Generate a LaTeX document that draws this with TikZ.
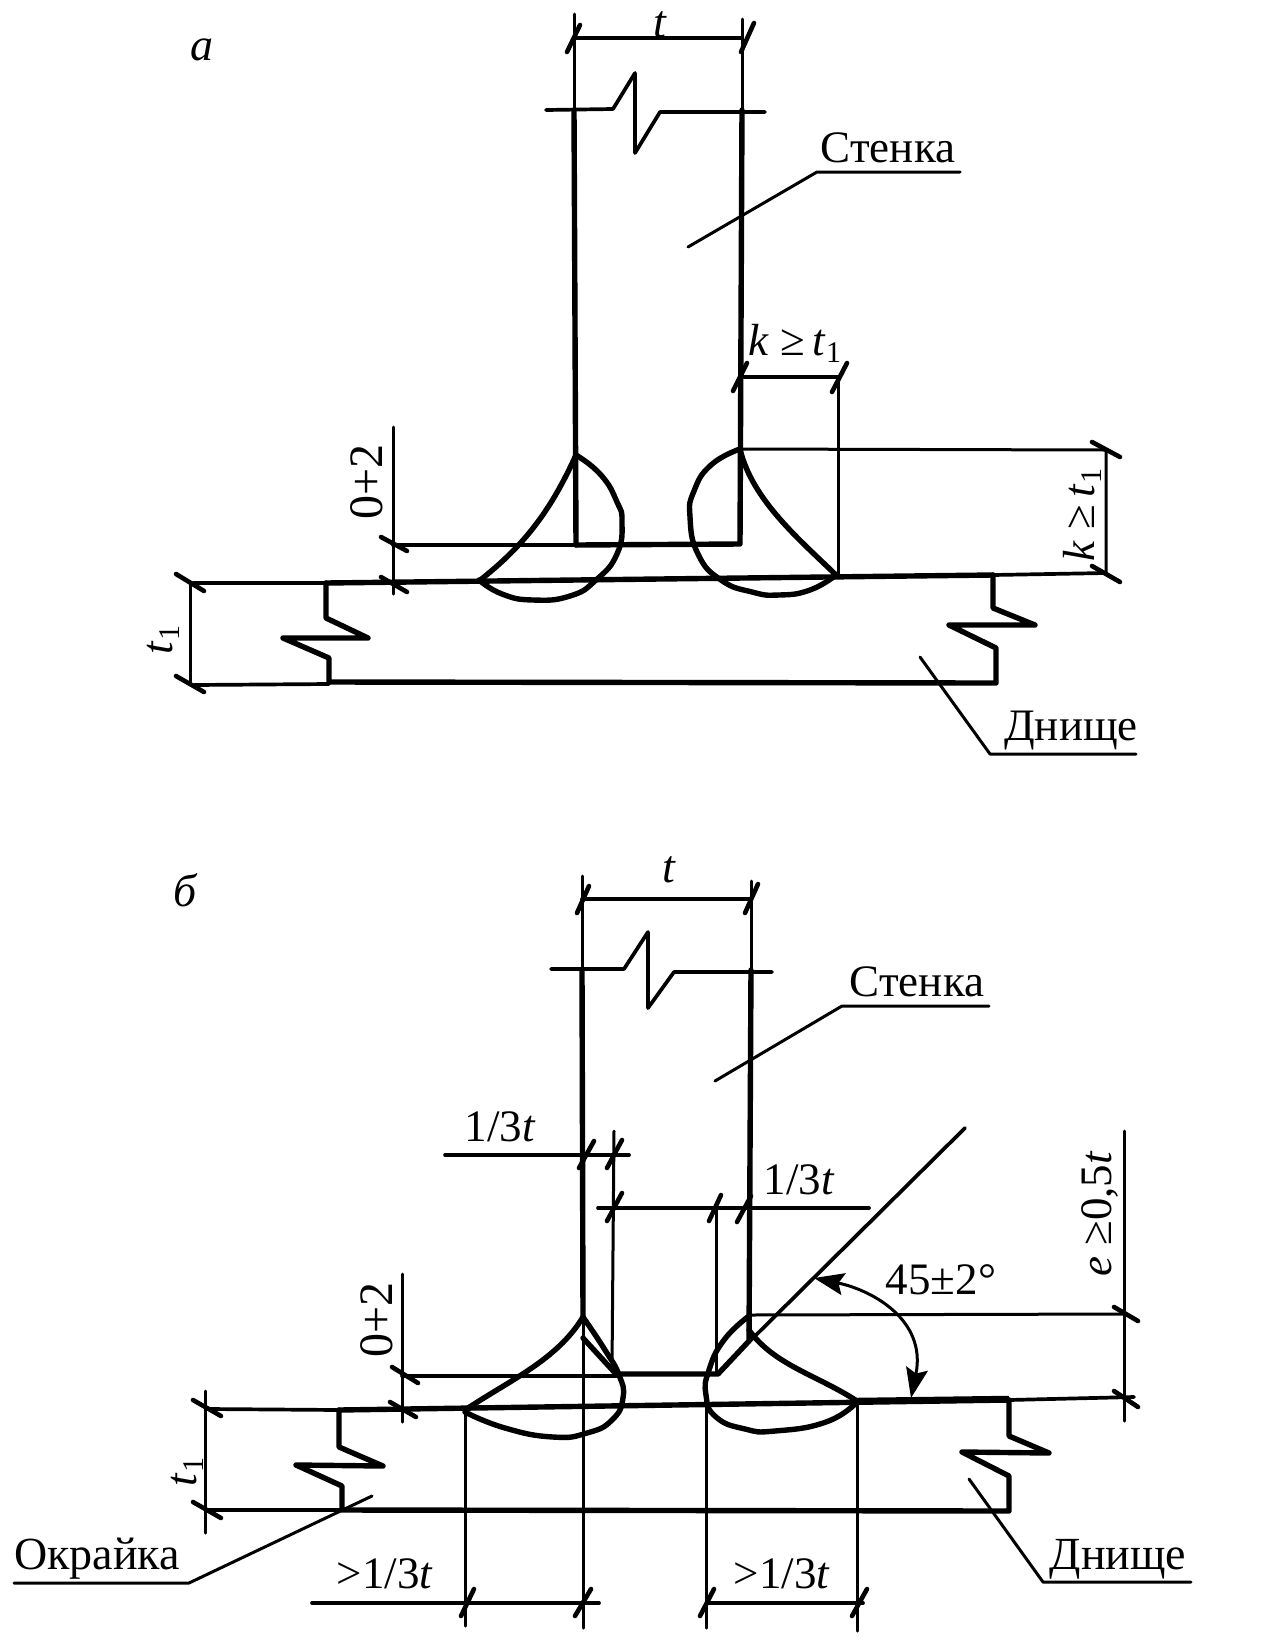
\documentclass[tikz,border=0pt]{standalone}
\usepackage{fontspec}
\setmainfont{Liberation Serif}
\usetikzlibrary{arrows.meta}
\tikzset{
  thinl/.style={line width=3pt,line cap=round,line join=round},
  medl/.style={line width=3.7pt,line cap=round,line join=round},
  thickl/.style={line width=5.4pt,line cap=round,line join=round},
  tickl/.style={line width=4.6pt,line cap=round},
  lbl/.style={inner sep=0pt,font=\fontsize{45}{50}\selectfont},
  dimlbl/.style={inner sep=0pt,font=\fontsize{45}{50}\selectfont},
  itlbl/.style={inner sep=0pt,font=\fontsize{46}{50}\selectfont\itshape},
  oplbl/.style={inner sep=0pt,font=\fontsize{48}{50}\selectfont},
}
\newcommand{\tone}{\textit{t}\raisebox{-7pt}{\fontsize{30}{30}\selectfont 1}}
\begin{document}
\begin{tikzpicture}[x=1pt,y=-1pt]
\useasboundingbox[fill=white] (0,0) rectangle (1265,1642);
%% ---- a ----
\node[itlbl] (la) at (202,50) {а};
% wall
\draw[thinl] (574,14) -- (574,110);
\draw[thickl] (574,110) -- (576,545);
\draw[thinl] (742,19) -- (742,110);
\draw[thickl] (742,110) -- (740,544) -- (576,545);
\draw[medl] (393,545) -- (576,545);
% t dim
\draw[medl] (574,38) -- (742,38);
\draw[tickl] (567,52) -- (580,25);
\draw[tickl] (741,52) -- (754,23);
\node[itlbl] (lt) at (660,25) {t};
% break
\draw[medl] (546,110) -- (613,109) -- (635,73) -- (635,153) -- (660,112) -- (765,112);
% Stenka
\node[lbl] (st1) at (888,148) {Стенка};
\coordinate (st1a) at (960,172);\coordinate (st1b) at (817,172);\coordinate (st1c) at (688,247);
\draw[thinl] (st1a) -- (st1b) -- (st1c);
% k dim top
\draw[medl] (741,377) -- (838,377);
\draw[thinl] (838,377) -- (838,577);
\draw[tickl] (733,391) -- (747,363);
\draw[tickl] (832,392) -- (847,363);
\node[dimlbl] (k1) at (795,343) {\textit{k} ≥\,\tone};
% k dim right
\draw[thinl] (740,449) -- (1106,450) -- (1106,573);
\draw[tickl] (1092,442) -- (1120,457);
\draw[tickl] (1092,566) -- (1120,582);
\node[dimlbl,rotate=90] (k2) at (1082,515) {\textit{k} ≥\,\tone};
% plate
\draw[medl] (194,583) -- (326,583);
\draw[thickl] (326,583) -- (993,575);
\draw[medl] (993,575) -- (1106,573);
\draw[thickl] (326,583) -- (326,618) -- (368,638) -- (283,638) -- (329,658) -- (329,682) -- (996,683) -- (996,648) -- (949,625) -- (1035,625) -- (993,608) -- (993,575);
\draw[medl] (194,685) -- (329,684);
% t1
\draw[thinl] (190,583) -- (190,685);
\draw[tickl] (176,574) -- (204,591);
\draw[tickl] (176,676) -- (204,692);
\node[dimlbl,rotate=90] (t1a) at (163,640) {\tone};
% 0+2
\draw[thinl] (393,427) -- (393,594);
\draw[tickl] (381,537) -- (407,551);
\draw[tickl] (381,577) -- (407,592);
\node[oplbl,rotate=90] (z1) at (367,482) {0+2};
% welds
\draw[thickl] (576,455) .. controls (551,510) and (525,545) .. (479,581);
\draw[thickl] plot[smooth,tension=0.85] coordinates {(576,455) (601,475) (617,502) (622,522) (617,554) (596,580) (570,596) (533,600) (502,594) (479,580)};
\draw[thickl] (740,449) .. controls (752,500) and (800,540) .. (836,575);
\draw[thickl] plot[smooth,tension=0.85] coordinates {(740,449) (711,465) (694,491) (690,517) (698,554) (721,580) (752,592) (779,595) (810,590) (836,575)};
% Dnische
\node[lbl] (d1) at (1071,731) {Днище};
\coordinate (d1a) at (1136,754);\coordinate (d1b) at (990,754);\coordinate (d1c) at (920,657);
\draw[thinl] (d1a) -- (d1b) -- (d1c);
%% ---- b ----
\node[itlbl] (lb) at (185,890) {б};
% wall & thin verticals
\draw[thinl] (582,876) -- (582,970);
\draw[thickl] (582,970) -- (583,1317);
\draw[thinl] (583,1317) -- (583,1628);
\draw[thinl] (751,881) -- (751,970);
\draw[thickl] (751,970) -- (749,1341) -- (718,1374) -- (616,1374) -- (583,1338);
\draw[medl] (402,1376) -- (616,1376);
% t dim
\draw[medl] (582,899) -- (751,899);
\draw[tickl] (577,913) -- (589,886);
\draw[tickl] (745,913) -- (758,884);
\node[itlbl] (lt2) at (669,870) {t};
% break
\draw[medl] (551,969) -- (624,969) -- (648,932) -- (648,1008) -- (674,972) -- (772,972);
% Stenka
\node[lbl] (st2) at (917,982) {Стенка};
\coordinate (st2a) at (989,1006);\coordinate (st2b) at (842,1006);\coordinate (st2c) at (715,1081);
\draw[thinl] (st2a) -- (st2b) -- (st2c);
% 1/3t top
\draw[medl] (445,1155) -- (629,1155);
\draw[tickl] (579,1168) -- (594,1141);
\draw[tickl] (607,1168) -- (622,1140);
\draw[thinl] (614,1131) -- (612,1369);
\node[dimlbl] (o1) at (500,1127) {1/3\textit{t}};
% 1/3t second
\draw[medl] (598,1208) -- (869,1208);
\draw[tickl] (607,1221) -- (622,1193);
\draw[tickl] (709,1221) -- (721,1195);
\draw[tickl] (737,1222) -- (751,1196);
\draw[thinl] (716,1207) -- (716,1372);
\node[dimlbl] (o2) at (799,1180) {1/3\textit{t}};
% 45 line
\draw[medl] (965,1128) -- (749,1342);
% plate
\draw[medl] (209,1409) -- (339,1410);
\draw[thickl] (339,1410) -- (1009,1400);
\draw[medl] (1009,1400) -- (1134,1397);
\draw[line width=6.5pt] (857,1401) -- (1009,1399);
\draw[thickl] (339,1410) -- (339,1447) -- (383,1466) -- (296,1465) -- (342,1486) -- (342,1510) -- (1009,1511) -- (1009,1476) -- (962,1452) -- (1049,1453) -- (1009,1436) -- (1009,1400);
\draw[medl] (209,1510) -- (342,1510);
% t1
\draw[thinl] (205,1391) -- (205,1533);
\draw[tickl] (193,1400) -- (221,1416);
\draw[tickl] (193,1502) -- (221,1518);
\node[dimlbl,rotate=90] (t1b) at (187,1472) {\tone};
% 0+2
\draw[thinl] (402,1274) -- (402,1422);
\draw[tickl] (392,1367) -- (418,1383);
\draw[tickl] (390,1402) -- (416,1417);
\node[oplbl,rotate=90] (z2) at (377,1320) {0+2};
% welds
\draw[thickl] (583,1317) .. controls (557,1360) and (510,1380) .. (465,1410);
\draw[thickl] plot[smooth,tension=0.85] coordinates {(583,1317) (605,1350) (619,1375) (623,1398) (612,1420) (587,1433) (553,1437) (505,1428) (465,1412)};
\draw[thickl] (749,1330) .. controls (774,1365) and (817,1375) .. (857,1401);
\draw[thickl] plot[smooth,tension=0.85] coordinates {(749,1316) (724,1340) (709,1370) (706,1395) (716,1417) (745,1429) (775,1431) (826,1422) (857,1402)};
% thin verticals lower
\draw[thinl] (465,1410) -- (465,1626);
\draw[thinl] (706,1395) -- (706,1628);
\draw[thinl] (857,1403) -- (857,1631);
% bottom dims
\draw[medl] (312,1603) -- (599,1603);
\draw[medl] (708,1603) -- (863,1603);
\draw[tickl] (461,1616) -- (474,1589);
\draw[tickl] (575,1616) -- (591,1589);
\draw[tickl] (700,1616) -- (714,1589);
\draw[tickl] (852,1616) -- (867,1589);
\node[dimlbl] (g1) at (385,1574) {>1/3\textit{t}};
\node[dimlbl] (g2) at (782,1574) {>1/3\textit{t}};
% e dim
\draw[thinl] (749,1315) -- (1126,1314);
\draw[thinl] (1124,1131) -- (1124,1421);
\draw[tickl] (1114,1307) -- (1138,1321);
\draw[tickl] (1114,1391) -- (1138,1407);
\node[dimlbl,rotate=90] (e1) at (1100,1214) {\textit{e} ≥0,5\textit{t}};
% angle
\node[dimlbl] (a45) at (941,1280) {45±2°};
\draw[thinl,{Stealth[length=30pt,width=22pt,inset=5pt]}-{Stealth[length=30pt,width=22pt,inset=5pt]}] (814,1278) .. controls (872,1290) and (927,1320) .. (911,1398);
% leaders
\node[lbl,font=\fontsize{46}{50}\selectfont] (ok) at (97,1559) {Окрайка};
\coordinate (oka) at (14,1583);\coordinate (okb) at (189,1583);\coordinate (okc) at (372,1496);
\draw[thinl] (oka) -- (okb) -- (okc);
\node[lbl,font=\fontsize{46}{50}\selectfont] (d2) at (1118,1559) {Днище};
\coordinate (d2a) at (1191,1582);\coordinate (d2b) at (1043,1582);\coordinate (d2c) at (969,1479);
\draw[thinl] (d2a) -- (d2b) -- (d2c);
\end{tikzpicture}
\end{document}
